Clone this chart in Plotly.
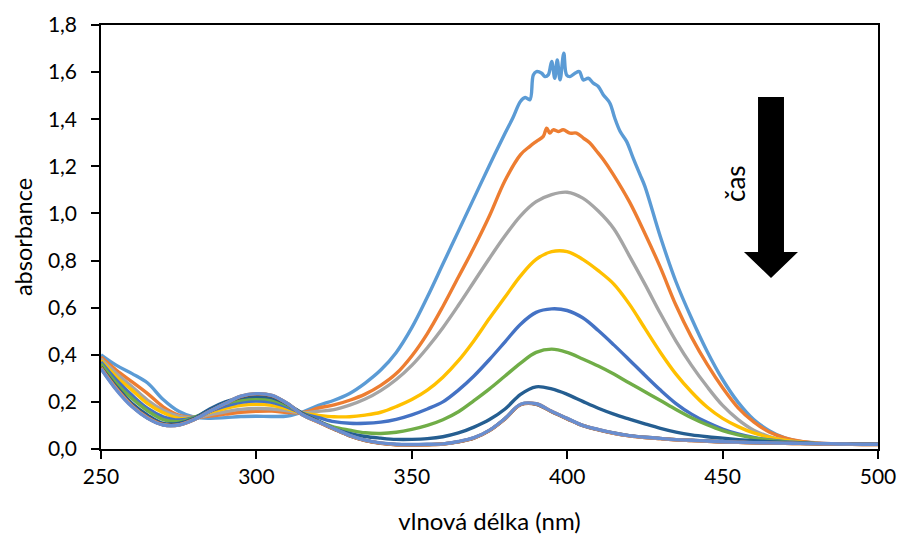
import plotly.graph_objects as go

# Wavelength grid (nm) shared by most spectra
wl = list(range(250, 505, 5))

# First spectrum: finer sampling across the noisy band maximum
wl_s1 = [250, 255, 260, 265, 270, 275, 280, 285, 290, 295, 300, 305, 310, 315,
         320, 325, 330, 335, 340, 345, 350, 355, 360, 365, 370, 375, 380,
         382.5, 385, 386.5, 388, 389.1, 390.1, 391.8, 392.8, 393.9, 395.0,
         396.0, 396.8, 397.7, 398.9, 399.8, 400.9, 402.5, 403.9, 405.2, 406.8,
         408.4, 410.0, 411.6, 413.7, 415.3, 417.0, 419.1, 421.2, 423.4,
         425, 430, 435, 440, 445, 450, 455, 460, 465, 470, 475, 480, 485,
         490, 495, 500]
s1 = [0.400, 0.355, 0.320, 0.280, 0.210, 0.160, 0.135, 0.130, 0.133, 0.138,
      0.139, 0.138, 0.140, 0.158, 0.185, 0.207, 0.236, 0.280, 0.335, 0.410,
      0.515, 0.645, 0.785, 0.925, 1.065, 1.205, 1.340,
      1.405, 1.476, 1.492, 1.483, 1.588, 1.602, 1.595, 1.581, 1.588, 1.645,
      1.574, 1.652, 1.567, 1.680, 1.588, 1.581, 1.595, 1.602, 1.567, 1.574,
      1.553, 1.539, 1.504, 1.469, 1.405, 1.349, 1.306, 1.236, 1.166,
      1.115, 0.900, 0.710, 0.555, 0.415, 0.295, 0.198, 0.125, 0.078, 0.047,
      0.032, 0.025, 0.022, 0.021, 0.020, 0.020]

wl_s2 = [250, 255, 260, 265, 270, 275, 280, 285, 290, 295, 300, 305, 310, 315,
         320, 325, 330, 335, 340, 345, 350, 355, 360, 365, 370, 375, 380, 385,
         388.0, 390.1, 392.3, 393.4, 394.4, 395.5, 397.1, 398.7, 400.9, 403.0,
         405.2, 407.3, 409.5, 411.6, 414.8,
         420, 425, 430, 435, 440, 445, 450, 455, 460, 465, 470, 475, 480, 485,
         490, 495, 500]
s2 = [0.390, 0.334, 0.285, 0.235, 0.179, 0.144, 0.134, 0.140, 0.148, 0.156,
      0.160, 0.161, 0.155, 0.155, 0.174, 0.187, 0.207, 0.233, 0.270, 0.320,
      0.395, 0.490, 0.605, 0.730, 0.855, 0.990, 1.140, 1.250,
      1.285, 1.306, 1.327, 1.362, 1.341, 1.355, 1.348, 1.355, 1.341, 1.341,
      1.320, 1.299, 1.264, 1.229, 1.166,
      1.050, 0.915, 0.770, 0.610, 0.475, 0.360, 0.260, 0.175, 0.115, 0.072,
      0.047, 0.033, 0.026, 0.022, 0.021, 0.020, 0.020]

s3 = [0.383, 0.320, 0.264, 0.207, 0.165, 0.139, 0.134, 0.145, 0.158, 0.168,
      0.172, 0.170, 0.162, 0.153, 0.160, 0.167, 0.186, 0.212, 0.248, 0.295,
      0.355, 0.430, 0.515, 0.610, 0.710, 0.810, 0.905, 0.990, 1.050, 1.080,
      1.090, 1.065, 1.010, 0.935, 0.820, 0.700, 0.575, 0.458, 0.355, 0.265,
      0.185, 0.125, 0.080, 0.053, 0.037, 0.028, 0.024, 0.022, 0.021, 0.020,
      0.020]
s4 = [0.376, 0.306, 0.250, 0.193, 0.154, 0.130, 0.134, 0.155, 0.172, 0.185,
      0.190, 0.185, 0.170, 0.152, 0.143, 0.137, 0.137, 0.144, 0.156, 0.180,
      0.210, 0.250, 0.305, 0.375, 0.460, 0.555, 0.645, 0.735, 0.805, 0.838,
      0.838, 0.805, 0.757, 0.700, 0.615, 0.512, 0.410, 0.318, 0.242, 0.178,
      0.130, 0.095, 0.068, 0.050, 0.037, 0.029, 0.024, 0.022, 0.021, 0.020,
      0.020]
s5 = [0.369, 0.292, 0.228, 0.172, 0.137, 0.123, 0.134, 0.160, 0.182, 0.198,
      0.204, 0.198, 0.178, 0.150, 0.133, 0.116, 0.109, 0.109, 0.114, 0.126,
      0.145, 0.170, 0.200, 0.250, 0.310, 0.380, 0.455, 0.530, 0.580, 0.595,
      0.588, 0.557, 0.503, 0.442, 0.378, 0.313, 0.250, 0.193, 0.148, 0.113,
      0.085, 0.064, 0.049, 0.038, 0.031, 0.027, 0.024, 0.022, 0.021, 0.020,
      0.020]
s6 = [0.362, 0.278, 0.214, 0.162, 0.125, 0.116, 0.134, 0.165, 0.193, 0.208,
      0.214, 0.208, 0.185, 0.150, 0.118, 0.093, 0.080, 0.069, 0.066, 0.071,
      0.083, 0.100, 0.124, 0.158, 0.205, 0.255, 0.310, 0.365, 0.410, 0.424,
      0.410, 0.382, 0.352, 0.318, 0.280, 0.243, 0.206, 0.168, 0.133, 0.103,
      0.078, 0.060, 0.047, 0.037, 0.030, 0.026, 0.023, 0.022, 0.021, 0.020,
      0.020]
s7 = [0.348, 0.264, 0.193, 0.144, 0.109, 0.109, 0.130, 0.170, 0.200, 0.218,
      0.224, 0.218, 0.190, 0.150, 0.118, 0.086, 0.066, 0.053, 0.046, 0.041,
      0.041, 0.044, 0.052, 0.068, 0.093, 0.125, 0.170, 0.232, 0.264, 0.255,
      0.232, 0.202, 0.173, 0.148, 0.127, 0.107, 0.088, 0.072, 0.060, 0.052,
      0.046, 0.040, 0.035, 0.031, 0.028, 0.025, 0.023, 0.022, 0.021, 0.020,
      0.020]
# Late spectra, which have settled onto almost the same curve
s8 = [0.346, 0.256, 0.184, 0.134, 0.104, 0.103, 0.126, 0.160, 0.192, 0.222,
      0.233, 0.226, 0.192, 0.144, 0.114, 0.084, 0.056, 0.036, 0.024, 0.018,
      0.016, 0.018, 0.021, 0.030, 0.046, 0.078, 0.128, 0.188, 0.190, 0.158,
      0.128, 0.099, 0.081, 0.067, 0.056, 0.049, 0.044, 0.039, 0.036, 0.033,
      0.030, 0.028, 0.026, 0.025, 0.024, 0.023, 0.022, 0.021, 0.020, 0.019,
      0.019]
s9 = [0.343, 0.253, 0.182, 0.132, 0.103, 0.102, 0.125, 0.160, 0.193, 0.223,
      0.234, 0.227, 0.193, 0.144, 0.115, 0.085, 0.057, 0.037, 0.025, 0.019,
      0.018, 0.019, 0.022, 0.031, 0.047, 0.079, 0.129, 0.189, 0.191, 0.159,
      0.129, 0.100, 0.082, 0.068, 0.057, 0.050, 0.045, 0.040, 0.037, 0.034,
      0.031, 0.029, 0.027, 0.026, 0.025, 0.024, 0.023, 0.022, 0.021, 0.020,
      0.020]
s10 = [0.344, 0.255, 0.183, 0.133, 0.103, 0.102, 0.125, 0.160, 0.193, 0.224,
       0.235, 0.228, 0.193, 0.144, 0.114, 0.085, 0.057, 0.037, 0.025, 0.018,
       0.017, 0.018, 0.021, 0.031, 0.047, 0.079, 0.129, 0.189, 0.192, 0.160,
       0.129, 0.100, 0.082, 0.067, 0.056, 0.049, 0.044, 0.039, 0.036, 0.033,
       0.030, 0.028, 0.026, 0.025, 0.024, 0.023, 0.022, 0.021, 0.020, 0.019,
       0.019]
s11 = [0.341, 0.250, 0.179, 0.130, 0.102, 0.102, 0.125, 0.160, 0.193, 0.224,
       0.235, 0.228, 0.193, 0.144, 0.115, 0.086, 0.058, 0.038, 0.026, 0.020,
       0.019, 0.020, 0.022, 0.032, 0.048, 0.080, 0.130, 0.190, 0.192, 0.160,
       0.130, 0.100, 0.083, 0.068, 0.057, 0.050, 0.045, 0.040, 0.037, 0.034,
       0.031, 0.029, 0.027, 0.026, 0.025, 0.024, 0.023, 0.022, 0.021, 0.020,
       0.020]

series = [
    (wl_s1, s1, "#5B9BD5"),
    (wl_s2, s2, "#ED7D31"),
    (wl, s3, "#A5A5A5"),
    (wl, s4, "#FFC000"),
    (wl, s5, "#4472C4"),
    (wl, s6, "#70AD47"),
    (wl, s7, "#255E91"),
    (wl, s8, "#9E480E"),
    (wl, s9, "#636363"),
    (wl, s10, "#F1975A"),
    (wl, s11, "#698ED0"),
]

x_ticks = [250, 300, 350, 400, 450, 500]
y_ticks = [0.0, 0.2, 0.4, 0.6, 0.8, 1.0, 1.2, 1.4, 1.6, 1.8]

FONT = "Lato"
fig = go.Figure()
for x, y, c in series:
    fig.add_trace(go.Scatter(
        x=x, y=y, mode="lines",
        line=dict(color=c, width=3.4, shape="spline", smoothing=1.0),
        showlegend=False, hoverinfo="skip"))

# Plot-area geometry in pixels, used to place the time arrow
L, R, T, B = 101, 878, 25, 449


def paper(px, py):
    return (px - L) / (R - L), (B - py) / (B - T)


arrow_px = [(758, 97), (784, 97), (784, 252), (798, 252), (771, 278),
            (744, 252), (758, 252)]
pts = [paper(px, py) for px, py in arrow_px]
path = "M " + " L ".join(f"{x:.4f},{y:.4f}" for x, y in pts) + " Z"
fig.add_shape(type="path", path=path, xref="paper", yref="paper",
              fillcolor="black", line=dict(color="black", width=0))

tx, ty = paper(735, 184)
fig.add_annotation(x=tx, y=ty, xref="paper", yref="paper", text="čas",
                   showarrow=False, textangle=-90,
                   xanchor="center", yanchor="middle",
                   font=dict(family=FONT, size=26, color="black"))

axis_common = dict(showline=True, linecolor="black", linewidth=1.5,
                   mirror=True, ticks="outside", ticklen=8, tickwidth=1.5,
                   tickcolor="black", showgrid=False, zeroline=False,
                   automargin=False,
                   tickfont=dict(family=FONT, size=21, color="black"))

fig.update_xaxes(range=[250, 500], tickvals=x_ticks,
                 title=dict(text="vlnová délka (nm)", standoff=26,
                            font=dict(family=FONT, size=24, color="black")),
                 ticklabelstandoff=0, **axis_common)
fig.update_yaxes(range=[0, 1.8], tickvals=y_ticks, tickformat=".1f",
                 title=dict(text="absorbance", standoff=9,
                            font=dict(family=FONT, size=23.5, color="black")),
                 ticklabelstandoff=10, **axis_common)

fig.update_layout(width=901, height=536,
                  margin=dict(l=L, r=901 - R, t=T, b=536 - B),
                  paper_bgcolor="white", plot_bgcolor="white",
                  separators=", ")

fig.write_html("out.html")
